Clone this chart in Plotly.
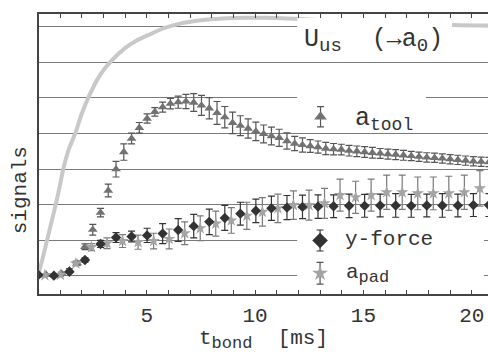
import plotly.graph_objects as go

# ---------------- data ----------------
# U_us (-> a0) reference curve
t_us = [0.0, 0.2, 0.4, 0.6, 0.8, 1.0, 1.15, 1.4, 1.7, 2.0, 2.3, 2.8, 3.3, 4.0, 4.5, 5.2,
        5.8, 6.5, 7.5, 8.5, 9.5, 10.5, 11.5, 12.5, 14.0, 16.0, 18.0, 20.8]
u_us = [1.05, 1.5, 2.0, 2.5, 3.0, 3.55, 4.0, 4.55, 5.0, 5.55, 6.0, 6.6, 7.0, 7.4, 7.6, 7.8,
        7.96, 8.08, 8.18, 8.23, 8.25, 8.25, 8.23, 8.2, 8.15, 8.1, 8.06, 8.03]

# a_tool (triangles), sampled every ~0.3585 ms
t_tool = [round(k * 0.3585, 3) for k in range(59)]
a_tool = [1.02, 1.04, 1.03, 1.07, 1.16, 1.36, 1.82, 2.30, 2.78, 3.40,
          4.00, 4.48, 4.86, 5.16, 5.42, 5.61, 5.74, 5.84, 5.88, 5.90,
          5.87, 5.79, 5.71, 5.58, 5.46, 5.30, 5.22, 5.14, 5.06, 4.99,
          4.93, 4.88, 4.79, 4.72, 4.68, 4.65, 4.62, 4.58, 4.56, 4.55,
          4.52, 4.50, 4.48, 4.46, 4.44, 4.42, 4.41, 4.39, 4.37, 4.35,
          4.33, 4.32, 4.30, 4.28, 4.26, 4.24, 4.22, 4.21, 4.20]
e_tool = [0.03, 0.03, 0.03, 0.04, 0.05, 0.06, 0.08, 0.15, 0.12, 0.18,
          0.22, 0.23, 0.15, 0.15, 0.13, 0.12, 0.14, 0.15, 0.17, 0.20,
          0.25, 0.28, 0.30, 0.32, 0.30, 0.30, 0.28, 0.27, 0.26, 0.25,
          0.25, 0.24, 0.23, 0.20, 0.20, 0.18, 0.17, 0.17, 0.16, 0.15,
          0.15, 0.15, 0.15, 0.15, 0.14, 0.14, 0.14, 0.14, 0.13, 0.13,
          0.13, 0.13, 0.13, 0.13, 0.13, 0.13, 0.13, 0.13, 0.13]

# y-force (diamonds), sampled every ~0.717 ms
t_force = [round(n * 0.717, 3) for n in range(30)]
y_force = [1.03, 1.01, 1.12, 1.45, 1.90, 2.08, 2.11, 2.14, 2.19, 2.29,
           2.40, 2.52, 2.63, 2.75, 2.83, 2.90, 2.92, 2.94, 2.95, 2.96,
           2.97, 2.97, 2.98, 2.98, 2.97, 2.98, 2.98, 2.98, 2.99, 2.99]
e_force = [0.03, 0.03, 0.04, 0.06, 0.10, 0.14, 0.15, 0.20, 0.28, 0.32,
           0.33, 0.36, 0.35, 0.32, 0.33, 0.34, 0.34, 0.33, 0.33, 0.32,
           0.33, 0.32, 0.32, 0.33, 0.32, 0.32, 0.33, 0.32, 0.32, 0.32]

# a_pad (stars), offset by ~0.3 ms from y-force samples
t_pad = [round(n * 0.717 + 0.3, 3) for n in range(29)]
a_pad = [1.02, 1.03, 1.35, 1.81, 1.92, 1.98, 1.95, 1.98, 2.04, 2.20,
         2.34, 2.47, 2.56, 2.69, 2.80, 2.90, 2.99, 2.99, 3.04, 3.27,
         3.21, 3.27, 3.35, 3.35, 3.32, 3.32, 3.32, 3.35, 3.46]
e_pad = [0.03, 0.04, 0.06, 0.10, 0.15, 0.18, 0.20, 0.22, 0.28, 0.32,
         0.35, 0.35, 0.36, 0.38, 0.40, 0.40, 0.40, 0.42, 0.42, 0.45,
         0.45, 0.45, 0.48, 0.48, 0.46, 0.46, 0.48, 0.48, 0.50]

x_ticks = [5, 10, 15, 20]


def sub(s, px=17):
    return "<sub><span style='font-size:%dpx'>%s</span></sub>" % (px, s)


legend_names = ["U" + sub("us", 19) + "  (\u2192a" + sub("0", 19) + ")", "a" + sub("tool", 18),
                "y-force", "a" + sub("pad", 17)]
legend_sizes = [25, 25, 21, 21]

FONT = "Liberation Mono"
TXT = "#333333"

fig = go.Figure()

fig.add_trace(go.Scatter(x=t_us, y=u_us, mode="lines", line=dict(color="#c8c8c8", width=4, shape="spline"),
                         hoverinfo="skip"))
fig.add_trace(go.Scatter(x=t_tool, y=a_tool, mode="markers",
                         marker=dict(symbol="triangle-up", size=8.5, color="#727272"),
                         error_y=dict(type="data", array=e_tool, color="#555555", thickness=1.2, width=3.5)))
fig.add_trace(go.Scatter(x=t_pad, y=a_pad, mode="markers",
                         marker=dict(symbol="star", size=9.5, color="#a4a4a4"),
                         error_y=dict(type="data", array=e_pad, color="#7a7a7a", thickness=1.2, width=3.5)))
fig.add_trace(go.Scatter(x=t_force, y=y_force, mode="markers",
                         marker=dict(symbol="diamond", size=8, color="#333333"),
                         error_y=dict(type="data", array=e_force, color="#333333", thickness=1.2, width=3.5)))

# ---- legend panel on an overlay axis (fractions of plot area) ----
boxes = [(0.575, 0.92, 0.84, 0.986), (0.575, 0.862, 0.593, 0.721), (0.575, 0.991, 0.018, 0.257)]
for x0, x1, y0, y1 in boxes:
    fig.add_trace(go.Scatter(x=[x0, x1, x1, x0, x0], y=[y0, y0, y1, y1, y0], xaxis="x2", yaxis="y2",
                             mode="lines", fill="toself", fillcolor="white", line=dict(width=0),
                             hoverinfo="skip"))
fig.add_trace(go.Scatter(x=[0.627], y=[0.633], xaxis="x2", yaxis="y2", mode="markers",
                         marker=dict(symbol="triangle-up", size=11, color="#727272"),
                         error_y=dict(type="data", array=[0.036], color="#555555", thickness=1.2, width=3.5)))
fig.add_trace(go.Scatter(x=[0.626], y=[0.191], xaxis="x2", yaxis="y2", mode="markers",
                         marker=dict(symbol="diamond", size=12, color="#333333"),
                         error_y=dict(type="data", array=[0.0375], color="#333333", thickness=1.2, width=3.5)))
fig.add_trace(go.Scatter(x=[0.626], y=[0.074], xaxis="x2", yaxis="y2", mode="markers",
                         marker=dict(symbol="star", size=12, color="#a4a4a4"),
                         error_y=dict(type="data", array=[0.039], color="#555555", thickness=1.2, width=3.5)))

legend_pos = [(0.586, 0.905), (0.700, 0.625), (0.677, 0.193), (0.679, 0.07)]
annotations = []
for name, (ax, ay), fs in zip(legend_names, legend_pos, legend_sizes):
    annotations.append(dict(text=name, x=ax, y=ay, xref="paper", yref="paper", xanchor="left",
                            yanchor="middle", showarrow=False, font=dict(family=FONT, size=fs, color=TXT)))
annotations.append(dict(text="t" + sub("bond") + "  [ms]", x=0.50, y=-0.163, xref="paper", yref="paper",
                        xanchor="center", yanchor="middle", showarrow=False,
                        font=dict(family=FONT, size=21, color=TXT)))
annotations.append(dict(text="signals", x=-0.042, y=0.371, xref="paper", yref="paper",
                        xanchor="center", yanchor="middle", textangle=-90, showarrow=False,
                        font=dict(family=FONT, size=21, color=TXT)))

fig.update_layout(
    width=488, height=354,
    margin=dict(l=39, r=0, t=14, b=60),
    paper_bgcolor="white", plot_bgcolor="white",
    showlegend=False,
    annotations=annotations,
    xaxis=dict(range=[0.03, 20.75], tickvals=x_ticks, ticktext=[str(v) for v in x_ticks],
               ticks="inside", ticklen=4, tickcolor="#444", showgrid=False, zeroline=False,
               showline=True, linecolor="#444", linewidth=1.5, mirror="allticks",
               minor=dict(dtick=1, tick0=0, ticks="inside", ticklen=4, tickcolor="#444", showgrid=False),
               tickfont=dict(family=FONT, size=21, color=TXT), ticklabelstandoff=1),
    yaxis=dict(range=[0.494, 8.357], tickvals=[1, 2, 3, 4, 5, 6, 7, 8], showticklabels=False,
               ticks="", showgrid=True, gridcolor="#7a7a7a", gridwidth=1.2, zeroline=False,
               showline=True, linecolor="#444", linewidth=1.5, mirror=False),
    xaxis2=dict(overlaying="x", range=[0, 1], visible=False, fixedrange=True),
    yaxis2=dict(overlaying="y", range=[0, 1], visible=False, fixedrange=True),
)

fig.write_html("out.html", config={"displayModeBar": False},
               post_script="document.body.style.margin='0';document.body.style.overflow='hidden';")
